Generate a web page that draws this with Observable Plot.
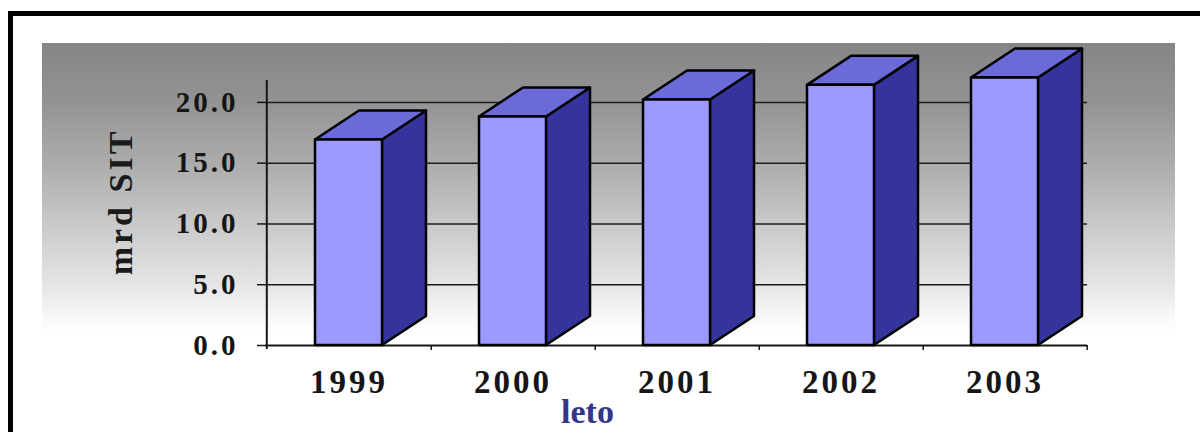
<!DOCTYPE html>
<html><head><meta charset="utf-8">
<script src="https://cdn.jsdelivr.net/npm/d3@7"></script>
<script src="https://cdn.jsdelivr.net/npm/@observablehq/plot@0.6"></script>
<style>
html,body{margin:0;padding:0;background:#fff;overflow:hidden;width:1200px;height:432px}
#frame{position:absolute;left:8px;top:11px;width:1400px;height:700px;border-left:5px solid #000;border-top:5px solid #000;box-sizing:border-box}
#wall{position:absolute;left:42px;top:43px;width:1133px;height:292px;background:linear-gradient(#858585 0%,#939393 20%,#adadad 42%,#c9c9c9 62%,#e5e5e5 83%,#fafafa 95%,#fff 100%)}
#chart{position:absolute;left:0;top:0}
.chart text{letter-spacing:3px}
.chart text.xtitle{letter-spacing:0}
</style></head><body>
<div id="frame"></div><div id="wall"></div><div id="chart"></div>
<script>
const years = ["1999", "2000", "2001", "2002", "2003"];
const values = [16.9, 18.8, 20.2, 21.4, 22.0];
const yTicks = [0, 5, 10, 15, 20];
const xTitle = "leto";
const yTitle = "mrd SIT";

const data = years.map((year, i) => ({year, value: values[i]}));

const W = 1200, H = 432, ML = 265, MR = 113, MT = 80, MB = 87;
const step = (W - ML - MR) / years.length;
const DX = 44, DY = 29;
const frontColor = "#9a9aff", sideColor = "#34349c", topColor = "#6a6ad8";

function depthFaces(index, scales) {
  const {x, y} = scales;
  const bw = x.bandwidth();
  const g = d3.create("svg:g")
    .attr("stroke", "#000").attr("stroke-width", 2.5).attr("stroke-linejoin", "round");
  data.forEach(d => {
    const x0 = x(d.year), x1 = x0 + bw, yT = y(d.value), yB = y(0);
    g.append("polygon").attr("fill", sideColor)
      .attr("points", [[x1, yB], [x1, yT], [x1 + DX, yT - DY], [x1 + DX, yB - DY]].join(" "));
    g.append("polygon").attr("fill", topColor)
      .attr("points", [[x0, yT], [x1, yT], [x1 + DX, yT - DY], [x0 + DX, yT - DY]].join(" "));
  });
  return g.node();
}

const chart = Plot.plot({
  width: W, height: H,
  marginLeft: ML, marginRight: MR, marginTop: MT, marginBottom: MB,
  className: "chart",
  style: {fontFamily: "'Liberation Serif', 'Times New Roman', serif", fontWeight: "bold", background: "transparent", color: "#161616", overflow: "visible"},
  x: {type: "band", domain: years, paddingInner: 0.593, paddingOuter: 0.2965, align: 0.5, label: null},
  y: {domain: [0, 21.8], label: null},
  marks: [
    Plot.gridY(yTicks.filter(t => t > 0), {stroke: "#1c1c1c", strokeOpacity: 1, strokeWidth: 1.5}),
    Plot.axisY(yTicks, {tickSize: 8, tickPadding: 19, tickFormat: d => d.toFixed(1), fontSize: 29, strokeWidth: 1.5, label: null}),
    Plot.axisX({tickSize: 0, tickPadding: 24, fontSize: 33, label: null}),
    Plot.ruleY([0], {strokeWidth: 2}),
    Plot.ruleX([years[0]], {dx: -step / 2, strokeWidth: 2, insetBottom: -4}),
    Plot.ruleX(years, {dx: step / 2, y1: 0, y2: 0, insetBottom: -5, strokeWidth: 1.5}),
    depthFaces,
    Plot.barY(data, {x: "year", y: "value", fill: frontColor, stroke: "#000", strokeWidth: 2.5, strokeLinejoin: "round"}),
    Plot.text([xTitle], {text: d => d, frameAnchor: "bottom", textAnchor: "middle", dx: -89, dy: 77, fontSize: 34, fill: "#35358a"}),
    Plot.text([yTitle], {text: d => d, frameAnchor: "left", textAnchor: "middle", rotate: -90, dx: -144, dy: -11, fontSize: 34, fill: "#1a1a1a"})
  ]
});
d3.select(chart).selectAll("text").filter(function() { return this.textContent === xTitle; }).classed("xtitle", true);
document.getElementById("chart").appendChild(chart);
</script>
</body></html>
